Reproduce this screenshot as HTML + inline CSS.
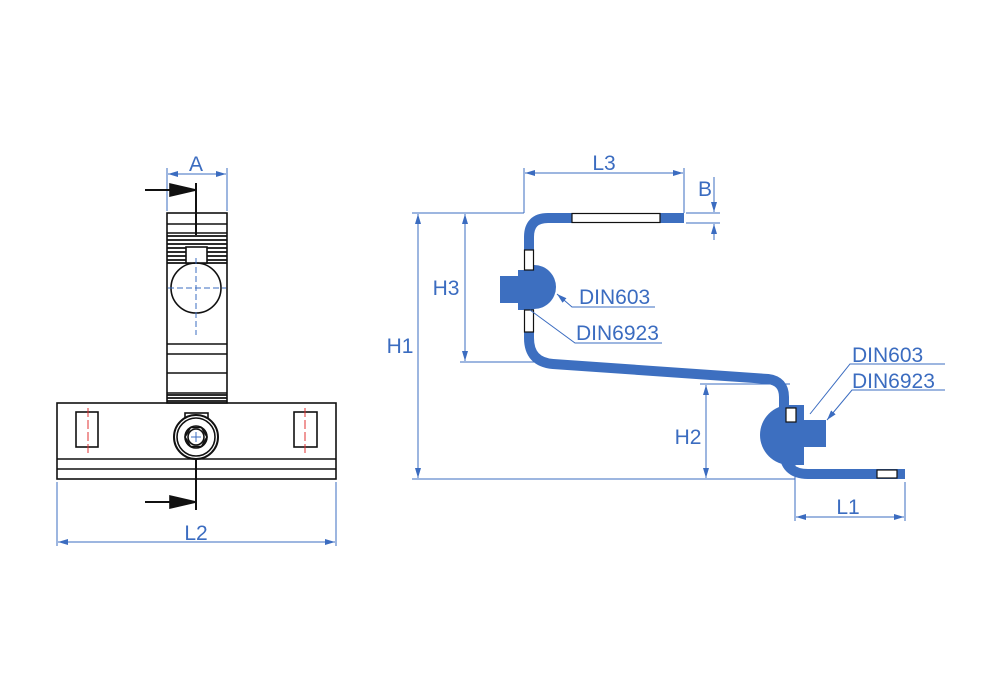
<!DOCTYPE html>
<html><head><meta charset="utf-8"><style>
html,body{margin:0;padding:0;background:#fff}
svg{display:block}
text{font-family:"Liberation Sans",sans-serif;fill:#3b6cc0}
</style></head><body>
<svg width="1000" height="700" viewBox="0 0 1000 700" xmlns="http://www.w3.org/2000/svg">
<defs>
<marker id="ab" markerWidth="10" markerHeight="6" refX="10" refY="3" orient="auto-start-reverse" markerUnits="userSpaceOnUse"><path d="M0,0 L10,3 L0,6 Z" fill="#3b6cc0"/></marker>
</defs>
<g fill="none" stroke="#111" stroke-width="1.6">
<g stroke="#3b6cc0" stroke-width="1">
<line x1="167" y1="168" x2="167" y2="211"/><line x1="227" y1="168" x2="227" y2="211"/>
<line x1="168" y1="174" x2="226" y2="174" marker-end="url(#ab)" marker-start="url(#ab)"/>
<line x1="57" y1="482" x2="57" y2="546"/><line x1="336" y1="482" x2="336" y2="546"/>
<line x1="58" y1="542" x2="335" y2="542" marker-end="url(#ab)" marker-start="url(#ab)"/>
</g>
<line x1="196" y1="183" x2="196" y2="235" stroke-width="2"/>
<line x1="145" y1="190" x2="175" y2="190" stroke-width="2"/>
<path d="M170,184 L196,190 L170,196 Z" fill="#111"/>
<line x1="196" y1="457" x2="196" y2="510" stroke-width="2"/>
<line x1="145" y1="502" x2="175" y2="502" stroke-width="2"/>
<path d="M170,496 L196,502 L170,508 Z" fill="#111"/>
<rect x="167" y="213" width="60" height="190"/>
<line x1="167" y1="224" x2="227" y2="224"/><line x1="167" y1="233" x2="227" y2="233"/>
<g stroke-width="1.8">
<line x1="167" y1="236" x2="227" y2="236"/><line x1="167" y1="240" x2="227" y2="240"/>
<line x1="167" y1="244" x2="227" y2="244"/><line x1="167" y1="248" x2="227" y2="248"/>
<line x1="167" y1="252" x2="227" y2="252"/><line x1="167" y1="256" x2="227" y2="256"/>
<line x1="167" y1="260" x2="227" y2="260"/><line x1="167" y1="263" x2="227" y2="263"/>
<line x1="167" y1="395" x2="227" y2="395"/><line x1="167" y1="398" x2="227" y2="398"/><line x1="167" y1="401" x2="227" y2="401"/>
</g>
<rect x="186" y="247" width="21" height="16" fill="#fff"/>
<circle cx="196" cy="288" r="25"/>
<line x1="167" y1="344" x2="227" y2="344"/><line x1="167" y1="354" x2="227" y2="354"/>
<line x1="167" y1="373" x2="227" y2="373"/><line x1="167" y1="393" x2="227" y2="393"/>
<g stroke="#3b6cc0" stroke-width="1" stroke-dasharray="6,3">
<line x1="196" y1="258" x2="196" y2="335"/><line x1="168" y1="288" x2="226" y2="288"/>
</g>
<rect x="57" y="403" width="279" height="76"/>
<line x1="57" y1="459" x2="336" y2="459"/><line x1="57" y1="469" x2="336" y2="469"/>
<rect x="76" y="412" width="22" height="35"/><rect x="294" y="412" width="23" height="35"/>
<g stroke="#e03030" stroke-width="1" stroke-dasharray="9,3"><line x1="88" y1="408" x2="88" y2="456"/><line x1="305" y1="408" x2="305" y2="456"/></g>
<rect x="185" y="413" width="23" height="6"/>
<circle cx="196" cy="437" r="22" fill="#fff" stroke-width="2"/>
<circle cx="196" cy="437" r="19"/>
<path d="M185,437 L190.5,427.5 L201.5,427.5 L207,437 L201.5,446.5 L190.5,446.5 Z"/>
<circle cx="196" cy="437" r="11"/>
<circle cx="196" cy="437" r="8"/>
<g stroke="#3b6cc0" stroke-width="1"><line x1="191" y1="437" x2="201" y2="437"/><line x1="196" y1="432" x2="196" y2="442"/></g>
</g>
<text x="196" y="171" font-size="21" text-anchor="middle">A</text>
<text x="196" y="540" font-size="21" text-anchor="middle">L2</text>

<g stroke="#3b6cc0" stroke-width="1" fill="none">
<line x1="524" y1="168" x2="524" y2="213"/><line x1="684" y1="168" x2="684" y2="213"/>
<line x1="525" y1="173" x2="683" y2="173" marker-end="url(#ab)" marker-start="url(#ab)"/>
<line x1="686" y1="213" x2="720" y2="213"/><line x1="686" y1="223" x2="720" y2="223"/>
<line x1="714" y1="177" x2="714" y2="212" marker-end="url(#ab)"/>
<line x1="714" y1="240" x2="714" y2="224" marker-end="url(#ab)"/>
<line x1="412" y1="213" x2="524" y2="213"/><line x1="412" y1="479" x2="795" y2="479"/>
<line x1="418" y1="214" x2="418" y2="478" marker-end="url(#ab)" marker-start="url(#ab)"/>
<line x1="460" y1="362" x2="540" y2="362"/>
<line x1="465" y1="214" x2="465" y2="361" marker-end="url(#ab)" marker-start="url(#ab)"/>
<line x1="700" y1="384" x2="790" y2="384"/>
<line x1="706" y1="385" x2="706" y2="478" marker-end="url(#ab)" marker-start="url(#ab)"/>
<line x1="795" y1="460" x2="795" y2="521"/><line x1="905" y1="482" x2="905" y2="521"/>
<line x1="796" y1="517" x2="904" y2="517" marker-end="url(#ab)" marker-start="url(#ab)"/>
</g>
<text x="604" y="170" font-size="21" text-anchor="middle">L3</text>
<text x="705" y="196" font-size="21" text-anchor="middle">B</text>
<text x="400" y="353" font-size="21" text-anchor="middle">H1</text>
<text x="446" y="295" font-size="21" text-anchor="middle">H3</text>
<text x="688" y="444" font-size="21" text-anchor="middle">H2</text>
<text x="848" y="514" font-size="21" text-anchor="middle">L1</text>

<g fill="none" stroke="#3d6fc0">
<path d="M684,218 L548,218 Q529,218 529,237 L529,338 Q529,362 553,364 L768,379 Q784,381 784,397 L784,450 Q784,474 808,474 L905,474" stroke-width="10"/>
</g>
<g fill="#3d6fc0">
<path d="M534,265 A22,22 0 0 1 534,309 Z"/>
<rect x="500" y="276" width="29" height="27"/>
<rect x="518" y="270" width="16" height="40"/>
<path d="M790,405 A30,30 0 0 0 790,465 Z"/>
<rect x="784" y="405" width="20" height="60"/>
<rect x="800" y="420" width="26" height="27"/>
</g>
<g fill="#fff" stroke="#111" stroke-width="1.2">
<rect x="572" y="213.5" width="88" height="9"/>
<rect x="524.5" y="250" width="9" height="20"/>
<rect x="524.5" y="310" width="9" height="22"/>
<rect x="786" y="408" width="10" height="14"/>
<rect x="877" y="470" width="20" height="8"/>
</g>
<g stroke="#3b6cc0" stroke-width="1" fill="none">
<polyline points="655,307 572,307 557,294" marker-end="url(#ab)"/>
<polyline points="662,343 575,343 530,310"/>
<polyline points="945,364 850,364 810,414"/>
<polyline points="945,390 852,390 827,420" marker-end="url(#ab)"/>
</g>
<text x="579" y="304" font-size="21">DIN603</text>
<text x="576" y="340" font-size="21">DIN6923</text>
<text x="852" y="362" font-size="21">DIN603</text>
<text x="852" y="388" font-size="21">DIN6923</text>
</svg>
</body></html>
